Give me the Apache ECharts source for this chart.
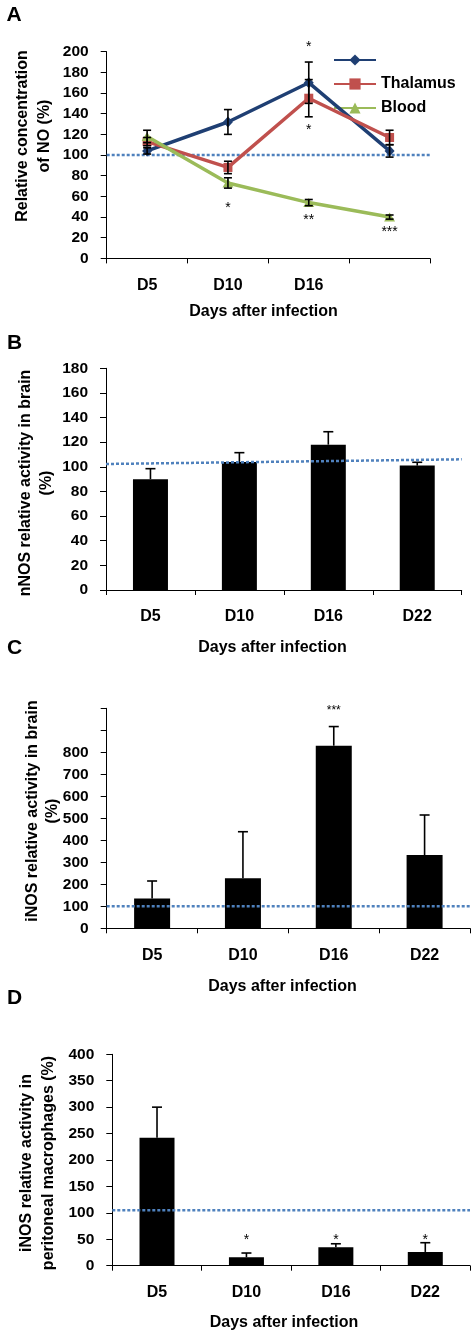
<!DOCTYPE html>
<html>
<head>
<meta charset="utf-8">
<script src="https://cdn.jsdelivr.net/npm/echarts@6/dist/echarts.min.js"></script>
<style>
html,body{margin:0;padding:0;background:#fff;}
#chart{width:475px;height:1338px;}
</style>
</head>
<body>
<div id="chart"></div>
<script>
// ---------- data ----------
const catsA = ['D5', 'D10', 'D16', ''];
const cats = ['D5', 'D10', 'D16', 'D22'];

const cortex = [104, 132, 170, 104];
const cortexErr = [3, 12, 20, 6];
const thalamus = [113, 88, 155, 117];
const thalamusErr = [4, 6, 18, 7];
const blood = [118, 73, 54, 40];
const bloodErr = [6, 5, 3, 2];

const nnos = [90, 104, 118, 101];
const nnosErr = [8.5, 7.5, 10.5, 2.7];

const inosBrain = [136, 227, 830, 333];
const inosBrainErr = [79, 212, 87, 182];

const inosMac = [242, 16, 35, 26];
const inosMacErr = [58, 8, 6.5, 17.5];

// reference (dotted) line values at left and right end of each panel
const refA = [100, 100];
const refB = [102.3, 106.1];
const refC = [100, 100];
const refD = [104.7, 104.7];

// significance marks: [category index, value, text]
const starsA = [[2, 208, '*'], [2, 127, '*'], [1, 52, '*'], [2, 40, '**'], [3, 29, '***']];
const starsC = [[2, 1003, '***']];
const starsD = [[1, 55, '*'], [2, 55, '*'], [3, 54, '*']];

// ---------- helpers ----------
const FONT = '"Liberation Sans", Arial, Helvetica, sans-serif';
const NAVY = '#1F3F73', RED = '#C0504D', GREEN = '#9BBB59', DOT = '#4F81BD';

function errData(vals, errs, both) {
  return vals.map((v, i) => [i, both ? v - errs[i] : v, v + errs[i]]);
}
function errRender(capW, both) {
  return function (params, api) {
    const x = api.value(0);
    const lo = api.coord([x, api.value(1)]);
    const hi = api.coord([x, api.value(2)]);
    const st = { stroke: '#000', lineWidth: 1.6 };
    const ch = [
      { type: 'line', shape: { x1: lo[0], y1: lo[1], x2: hi[0], y2: hi[1] }, style: st },
      { type: 'line', shape: { x1: hi[0] - capW / 2, y1: hi[1], x2: hi[0] + capW / 2, y2: hi[1] }, style: st }
    ];
    if (both) ch.push({ type: 'line', shape: { x1: lo[0] - capW / 2, y1: lo[1], x2: lo[0] + capW / 2, y2: lo[1] }, style: st });
    return { type: 'group', children: ch };
  };
}
function starData(arr) {
  return arr.map(d => [d[0], d[1]]);
}
function starRender(size, arr) {
  return function (params, api) {
    const p = api.coord([api.value(0), api.value(1)]);
    return {
      type: 'text', x: p[0], y: p[1] + size * 0.24,
      style: { text: String(arr[params.dataIndex][2]), fill: '#000', font: size + 'px ' + FONT, align: 'center', verticalAlign: 'middle', textAlign: 'center', textVerticalAlign: 'middle' }
    };
  };
}
function catAxis(grid, data) {
  return {
    type: 'category', gridIndex: grid, data: data, boundaryGap: true,
    axisLine: { lineStyle: { color: '#000', width: 1 } },
    axisTick: { show: true, length: 5, alignWithLabel: false, lineStyle: { color: '#000' } },
    axisLabel: { color: '#000', fontWeight: 'bold', fontSize: 16, fontFamily: FONT, margin: 19 }
  };
}
function valXAxis(grid) {
  return { type: 'value', gridIndex: grid, min: 0, max: 1, show: false };
}
function valYAxis(grid, max, interval, maxLabel) {
  return {
    type: 'value', gridIndex: grid, min: 0, max: max, interval: interval,
    splitLine: { show: false },
    axisLine: { show: true, lineStyle: { color: '#000', width: 1 } },
    axisTick: { show: true, length: 6, lineStyle: { color: '#000' } },
    axisLabel: {
      color: '#000', fontWeight: 'bold', fontSize: 15.5, fontFamily: FONT, margin: 18,
      formatter: v => (maxLabel !== undefined && v > maxLabel) ? '' : String(v)
    }
  };
}
function refLine(xi, yi, vals) {
  return {
    type: 'line', xAxisIndex: xi, yAxisIndex: yi, data: [[0, vals[0]], [1, vals[1]]],
    symbol: 'none', silent: true, z: 5,
    lineStyle: { color: DOT, width: 2.5, type: [3, 2] }
  };
}
function txt(x, y, text, size, rot, lh) {
  return {
    type: 'text', x: x, y: y, rotation: rot || 0,
    style: { text: text, fill: '#000', font: 'bold ' + size + 'px ' + FONT, align: 'center', verticalAlign: 'middle', textAlign: 'center', textVerticalAlign: 'middle', lineHeight: lh || size * 1.2 }
  };
}

// ---------- chart ----------
const chart = echarts.init(document.getElementById('chart'), null, { renderer: 'canvas' });
const R = Math.PI / 2;

const option = {
  animation: false,
  backgroundColor: '#fff',
  grid: [
    { left: 106.7, top: 51.7, width: 323.3, height: 206.7 },
    { left: 106, top: 368.3, width: 355.7, height: 221.7 },
    { left: 106.7, top: 708.3, width: 363.3, height: 220 },
    { left: 112.3, top: 1054.3, width: 357.7, height: 211.4 }
  ],
  xAxis: [catAxis(0, catsA), valXAxis(0), catAxis(1, cats), valXAxis(1), catAxis(2, cats), valXAxis(2), catAxis(3, cats), valXAxis(3)],
  yAxis: [valYAxis(0, 200, 20), valYAxis(1, 180, 20), valYAxis(2, 1000, 100, 800), valYAxis(3, 400, 50)],
  legend: {
    orient: 'vertical', left: 328, top: 47, itemWidth: 42, itemHeight: 14, itemGap: 8,
    data: [' ', 'Thalamus', 'Blood'],
    textStyle: { color: '#000', fontWeight: 'bold', fontSize: 16, fontFamily: FONT }
  },
  graphic: [
    txt(14, 15, 'A', 21), txt(14.5, 343, 'B', 21), txt(14.5, 648, 'C', 21), txt(14.5, 998.5, 'D', 21),
    txt(34, 136, 'Relative concentration\nof NO (%)', 16, R, 22),
    txt(36.5, 483, 'nNOS relative activity in brain\n(%)', 16, R, 21),
    txt(43, 811, 'iNOS relative activity in brain\n(%)', 16, R, 20),
    txt(38, 1163, 'iNOS relative activity in\nperitoneal macrophages (%)', 16, R, 22),
    txt(263.5, 312, 'Days after infection', 16),
    txt(272.5, 648, 'Days after infection', 16),
    txt(282.5, 987, 'Days after infection', 16),
    txt(284, 1323, 'Days after infection', 16)
  ],
  series: [
    // Panel A
    refLine(1, 0, refA),
    { name: ' ', type: 'line', xAxisIndex: 0, yAxisIndex: 0, data: cortex, symbol: 'diamond', symbolSize: [10, 11], z: 6,
      lineStyle: { color: NAVY, width: 3.5 }, itemStyle: { color: NAVY } },
    { name: 'Thalamus', type: 'line', xAxisIndex: 0, yAxisIndex: 0, data: thalamus, symbol: 'rect', symbolSize: 9, z: 7,
      lineStyle: { color: RED, width: 3.5 }, itemStyle: { color: RED } },
    { name: 'Blood', type: 'line', xAxisIndex: 0, yAxisIndex: 0, data: blood, symbol: 'triangle', symbolSize: [11, 9], z: 8,
      lineStyle: { color: GREEN, width: 3.5 }, itemStyle: { color: GREEN } },
    { type: 'custom', xAxisIndex: 0, yAxisIndex: 0, data: errData(cortex, cortexErr, true), renderItem: errRender(8, true), z: 10, silent: true },
    { type: 'custom', xAxisIndex: 0, yAxisIndex: 0, data: errData(thalamus, thalamusErr, true), renderItem: errRender(8, true), z: 10, silent: true },
    { type: 'custom', xAxisIndex: 0, yAxisIndex: 0, data: errData(blood, bloodErr, true), renderItem: errRender(8, true), z: 10, silent: true },
    { type: 'custom', xAxisIndex: 0, yAxisIndex: 0, data: starData(starsA), renderItem: starRender(14, starsA), z: 11, silent: true, clip: false },

    // Panel B
    { type: 'bar', xAxisIndex: 2, yAxisIndex: 1, data: nnos, barWidth: 35, itemStyle: { color: '#000' }, z: 2 },
    { type: 'custom', xAxisIndex: 2, yAxisIndex: 1, data: errData(nnos, nnosErr, false), renderItem: errRender(10, false), z: 3, silent: true },
    refLine(3, 1, refB),

    // Panel C
    { type: 'bar', xAxisIndex: 4, yAxisIndex: 2, data: inosBrain, barWidth: 36, itemStyle: { color: '#000' }, z: 2 },
    { type: 'custom', xAxisIndex: 4, yAxisIndex: 2, data: errData(inosBrain, inosBrainErr, false), renderItem: errRender(10, false), z: 3, silent: true },
    refLine(5, 2, refC),
    { type: 'custom', xAxisIndex: 4, yAxisIndex: 2, data: starData(starsC), renderItem: starRender(12, starsC), z: 11, silent: true, clip: false },

    // Panel D
    { type: 'bar', xAxisIndex: 6, yAxisIndex: 3, data: inosMac, barWidth: 35, itemStyle: { color: '#000' }, z: 2 },
    { type: 'custom', xAxisIndex: 6, yAxisIndex: 3, data: errData(inosMac, inosMacErr, false), renderItem: errRender(10, false), z: 3, silent: true },
    refLine(7, 3, refD),
    { type: 'custom', xAxisIndex: 6, yAxisIndex: 3, data: starData(starsD), renderItem: starRender(14, starsD), z: 11, silent: true, clip: false }
  ]
};
chart.setOption(option);
</script>
</body>
</html>
